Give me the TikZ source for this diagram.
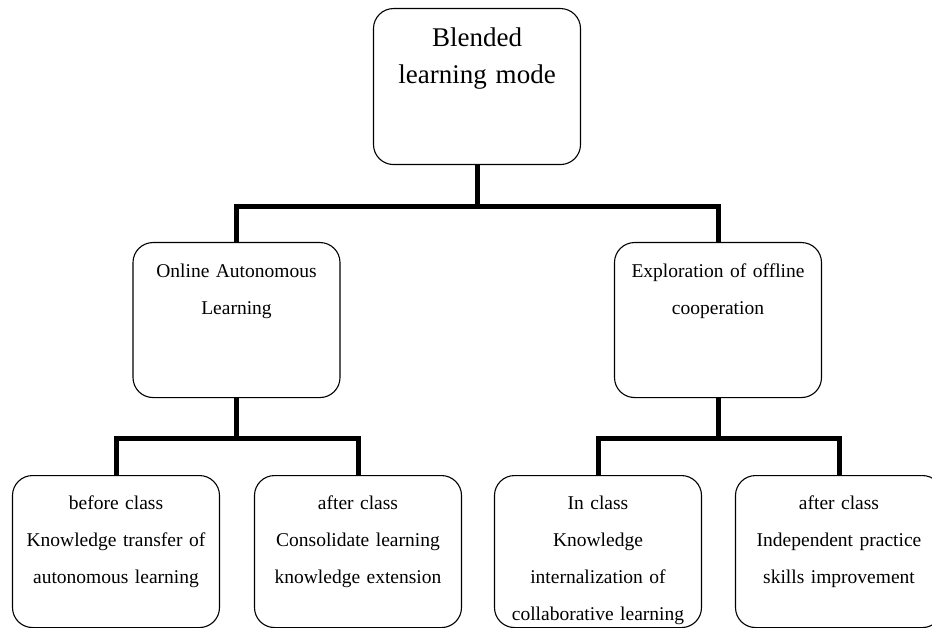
\documentclass[tikz,border=0pt]{standalone}
\usepackage{fontspec}
\setmainfont{Liberation Serif}
\usetikzlibrary{calc}

\begin{document}
\begin{tikzpicture}[x=1pt,y=1pt,
    box/.style={draw,rounded corners=20pt,line width=1.1pt,anchor=north,
      inner sep=0pt,text width=207pt,align=center,
      font=\fontsize{19.5}{37}\selectfont,text height=35pt,text depth=120pt},
    conn/.style={line width=5pt}]
  \useasboundingbox (0,0) rectangle (932,-628);
  \node[box,font=\fontsize{27}{37}\selectfont,text height=38pt,text depth=118pt]
    (mode) at (477,-8) {Blended\\learning mode};
  \node[box] (online) at (236.5,-242) {Online Autonomous\\Learning};
  \node[box] (offline) at (718,-242) {Exploration of offline\\cooperation};
  \node[box,text height=34pt,text depth=118pt] (before) at (116,-475)
    {before class\\Knowledge transfer of\\autonomous learning};
  \node[box,text height=34pt,text depth=118pt] (after1) at (358,-475)
    {after class\\Consolidate learning\\knowledge extension};
  \node[box,text height=34pt,text depth=118pt] (inclass) at (598,-475)
    {In class\\Knowledge\\internalization of\\collaborative learning};
  \node[box,text height=34pt,text depth=118pt] (after2) at (839,-475)
    {after class\\Independent practice\\skills improvement};
  \coordinate (j0) at ($(mode.south)+(0,-41)$);
  \coordinate (j1) at ($(online.south)+(0,-40)$);
  \coordinate (j2) at ($(offline.south)+(0,-40)$);
  \draw[conn] (mode.south) -- (j0) -| (online.north);
  \draw[conn] (j0) -| (offline.north);
  \draw[conn] (online.south) -- (j1) -| (before.north);
  \draw[conn] (j1) -| (after1.north);
  \draw[conn] (offline.south) -- (j2) -| (inclass.north);
  \draw[conn] (j2) -| (after2.north);
\end{tikzpicture}
\end{document}
